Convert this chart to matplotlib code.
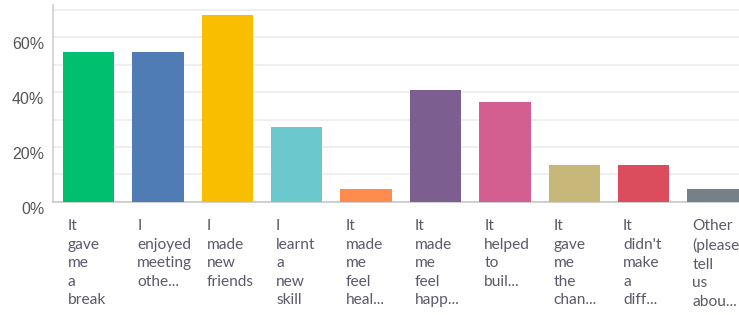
import matplotlib.pyplot as plt
import matplotlib.transforms as mtransforms

# answer options (wrapped one word per line, as shown)
labels = [
    "It\ngave\nme\na\nbreak",
    "I\nenjoyed\nmeeting\nothe...",
    "I\nmade\nnew\nfriends",
    "I\nlearnt\na\nnew\nskill",
    "It\nmade\nme\nfeel\nheal...",
    "It\nmade\nme\nfeel\nhapp...",
    "It\nhelped\nto\nbuil...",
    "It\ngave\nme\nthe\nchan...",
    "It\ndidn't\nmake\na\ndiff...",
    "Other\n(please\ntell\nus\nabou...",
]
# percent of respondents
values = [54.55, 54.55, 68.18, 27.27, 4.55, 40.91, 36.36, 13.64, 13.64, 4.55]
colors = ["#00BF6F", "#507CB6", "#F9BE00", "#6BC8CD", "#FF8B4F",
          "#7D5E90", "#D25F90", "#C7B879", "#DB4D5C", "#768086"]
yticks = [0, 20, 40, 60]

fig = plt.figure(figsize=(7.39, 3.15), dpi=100)
ax = fig.add_axes([0.072, 0.359, 0.928, 0.625])

x = list(range(len(values)))
ax.bar(x, values, width=0.74, color=colors, zorder=3)

ax.set_xlim(-0.51, 9.375)
ax.set_ylim(0, 71.8)

# grid every 10%, labels every 20%
ax.set_yticks(range(0, 71, 10), minor=True)
ax.set_yticks(yticks)
ax.set_yticklabels([f"{v}%" for v in yticks])
ax.grid(axis="y", which="both", color="#ececec", linewidth=1.2, zorder=0)
ax.tick_params(axis="y", which="both", length=0, pad=6.5, labelsize=11.5,
               labelcolor="#555555")
for t in ax.get_yticklabels():
    t.set_fontfamily("Liberation Sans")
    t.set_transform(t.get_transform() + mtransforms.ScaledTranslation(0, -6 / 100, fig.dpi_scale_trans))

ax.set_xticks(x)
ax.set_xticklabels(labels, ha="left", va="top", linespacing=1.41,
                   fontsize=11.2, color="#5a5a6a", family="Lato")
ax.tick_params(axis="x", length=0, pad=12.5)
for t in ax.get_xticklabels():
    t.set_transform(t.get_transform() + mtransforms.ScaledTranslation(-20.6 / 100, 0, fig.dpi_scale_trans))

for side in ["top", "right"]:
    ax.spines[side].set_visible(False)
ax.spines["left"].set_color("#d0d0d0")
ax.spines["bottom"].set_color("#c8c8c8")
ax.spines["left"].set_linewidth(1.2)
ax.spines["bottom"].set_linewidth(1.2)

fig.savefig("out.png", dpi=100)
